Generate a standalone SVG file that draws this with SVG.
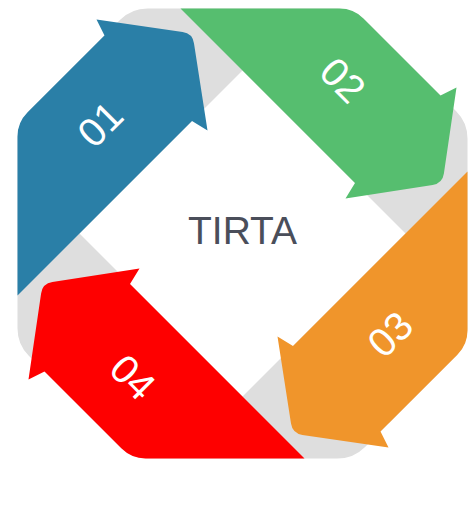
<svg xmlns="http://www.w3.org/2000/svg" width="468" height="515" viewBox="0 0 468 515">
  <style>
    .num { font-family: "Liberation Sans", Arial, sans-serif; font-size: 40px; fill: #ffffff; text-anchor: middle; }
    .title { font-family: "Liberation Sans", Arial, sans-serif; font-size: 39px; fill: #4a4e5a; text-anchor: middle; }
  </style>
  <defs>
    <path id="arrowShape" d="M 17.5,295.5 L 17.5,136.5 Q 17.5,122.5 27.4,112.6 L 104.5,35.5 L 96.5,19.5 L 182.6,32.1 Q 192.5,33.5 194.0,43.4 L 207.5,130.5 L 192,121 Z"/>
  </defs>
  <rect width="468" height="515" fill="#ffffff"/>
  <g id="ring">
    <path d="M 147.5,8.5 L 337.5,8.5 Q 353.5,8.5 364.8,19.8 L 456.2,111.2 Q 467.5,122.5 467.5,138.5 L 467.5,328.5 Q 467.5,344.5 456.2,355.8 L 364.8,447.2 Q 353.5,458.5 337.5,458.5 L 147.5,458.5 Q 131.5,458.5 120.2,447.2 L 28.8,355.8 Q 17.5,344.5 17.5,328.5 L 17.5,138.5 Q 17.5,122.5 28.8,111.2 L 120.2,19.8 Q 131.5,8.5 147.5,8.5 Z" fill="#dedede"/>
    <path d="M 242.5,70.5 L 405.5,233.5 L 242.5,396.5 L 79.5,233.5 Z" fill="#ffffff"/>
  </g>
  <g id="step01">
    <use href="#arrowShape" fill="#2a7fa7"/>
    <text class="num" transform="translate(100,124) rotate(-45)" x="0" y="14">01</text>
  </g>
  <g id="step02">
    <use href="#arrowShape" fill="#56be6f" transform="rotate(90 242.5 233.5)"/>
    <text class="num" transform="translate(343,80) rotate(45)" x="0" y="14">02</text>
  </g>
  <g id="step03">
    <use href="#arrowShape" fill="#f0952b" transform="rotate(180 242.5 233.5)"/>
    <text class="num" transform="translate(390,334) rotate(-45)" x="0" y="14">03</text>
  </g>
  <g id="step04">
    <use href="#arrowShape" fill="#fe0000" transform="rotate(270 242.5 233.5)"/>
    <text class="num" transform="translate(133,377) rotate(45)" x="0" y="14">04</text>
  </g>
  <g id="connectors"></g>
  <g id="center">
    <text class="title" x="242.5" y="244">TIRTA</text>
  </g>
</svg>
